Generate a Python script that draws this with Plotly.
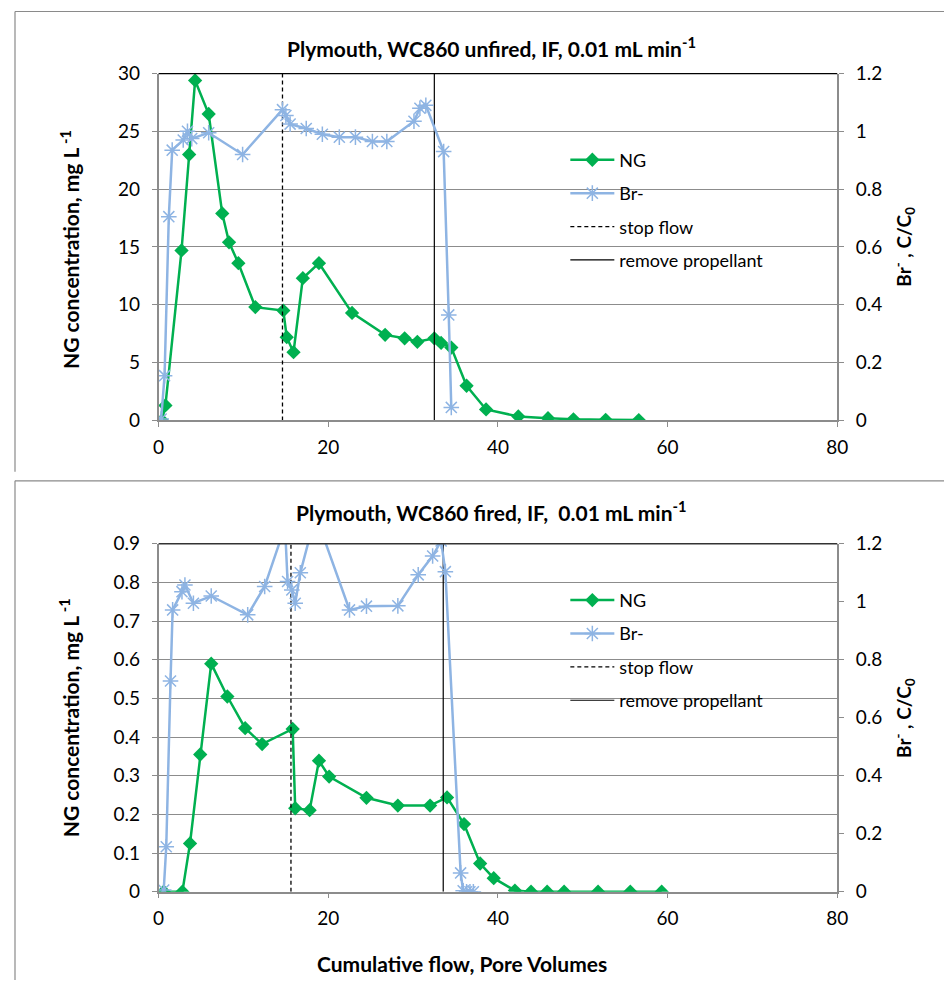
import plotly.graph_objects as go

# 图1: unfired
ng1_x = [0.4, 0.8, 2.7, 3.6, 4.3, 5.9, 7.5, 8.3, 9.4, 11.4, 14.7, 15.1, 15.9, 17.0, 18.9, 22.8,
         26.7, 29.0, 30.5, 32.5, 33.3, 34.5, 36.3, 38.6, 42.4, 45.9, 48.9, 52.7, 56.6]
ng1_y = [0, 1.3, 14.7, 23.0, 29.4, 26.5, 17.9, 15.4, 13.6, 9.8, 9.5, 7.2, 5.9, 12.3, 13.6, 9.3,
         7.4, 7.1, 6.8, 7.1, 6.7, 6.3, 3.0, 0.95, 0.35, 0.2, 0.1, 0.05, 0.03]
br1_x = [0.3, 0.7, 1.2, 1.6, 2.9, 3.4, 3.9, 5.9, 9.9, 14.6, 15.0, 15.5, 17.4, 19.3, 21.3, 23.2,
         25.2, 26.9, 30.1, 30.8, 31.5, 33.6, 34.2, 34.5]
br1_y = [0.005, 0.155, 0.705, 0.935, 0.97, 1.0, 0.975, 0.995, 0.92, 1.075, 1.055, 1.025, 1.01,
         0.99, 0.98, 0.98, 0.965, 0.965, 1.035, 1.08, 1.09, 0.93, 0.365, 0.045]
stop1 = 14.6
remove1 = 32.5

# 图2: fired
ng2_x = [0.6, 2.8, 3.7, 4.9, 6.2, 8.1, 10.2, 12.2, 15.8, 16.1, 17.8, 18.9, 20.1, 24.5, 28.2,
         32.0, 34.0, 36.0, 37.9, 39.5, 42.0, 43.9, 45.8, 47.8, 51.8, 55.6, 59.3]
ng2_y = [0, 0, 0.125, 0.355, 0.59, 0.505, 0.423, 0.382, 0.421, 0.216, 0.211, 0.339, 0.298,
         0.243, 0.223, 0.223, 0.244, 0.175, 0.073, 0.035, 0.003, 0, 0, 0, 0, 0, 0]
br2_x = [0.6, 0.9, 1.4, 1.65, 2.75, 3.1, 4.1, 6.2, 10.5, 12.5, 14.9, 15.2, 15.7, 16.1, 16.7,
         18.5, 22.5, 24.5, 28.2, 30.6, 32.3, 33.3, 33.8, 35.6, 35.9, 36.3, 36.7, 37.1]
br2_y = [0.006, 0.155, 0.727, 0.972, 1.035, 1.058, 0.995, 1.02, 0.955, 1.053, 1.26, 1.07, 1.041,
         0.995, 1.1, 1.30, 0.972, 0.985, 0.986, 1.093, 1.158, 1.21, 1.104, 0.065, 0.003, 0, 0, 0]
stop2 = 15.6
remove2 = 33.55

W, H = 952, 983
FONT = 'Lato'
GREEN = '#00B050'
BLUE = '#8EB4E3'
GRID = '#8c8c8c'

# 截图里的偏移/缩放补偿（像素 -> paper）
SX, OX = 0.986, 11.5
SY, OY = 0.976, 20.5

def px(x):
    return (x - OX) / SX / W

def py(y):
    return 1 - (y - OY) / SY / H

fig = go.Figure()

def add_panel(xa, ya, ya2, ng_x, ng_y, br_x, br_y, stop, remove, ytop, leg):
    fig.add_trace(go.Scatter(x=ng_x, y=ng_y, xaxis=xa, yaxis=ya, name='NG', mode='lines+markers',
                             line=dict(color=GREEN, width=2.5),
                             marker=dict(symbol='diamond', size=11, color=GREEN),
                             legend=leg, legendgroup='a', legendrank=1))
    fig.add_trace(go.Scatter(x=[stop, stop], y=[0, ytop], xaxis=xa, yaxis=ya, name='stop flow',
                             mode='lines', line=dict(color='black', width=1.3, dash='4px,3px'),
                             legend=leg, legendgroup='c', legendrank=3))
    fig.add_trace(go.Scatter(x=[remove, remove], y=[0, ytop], xaxis=xa, yaxis=ya,
                             name='remove propellant', mode='lines',
                             line=dict(color='black', width=1.2),
                             legend=leg, legendgroup='d', legendrank=4))
    fig.add_trace(go.Scatter(x=br_x, y=br_y, xaxis=xa, yaxis=ya2, name='Br-', mode='lines+markers',
                             line=dict(color=BLUE, width=2.5),
                             marker=dict(symbol='asterisk-open', size=13,
                                         line=dict(color=BLUE, width=1.5)),
                             legend=leg, legendgroup='b', legendrank=2))

add_panel('x', 'y', 'y2', ng1_x, ng1_y, br1_x, br1_y, stop1, remove1, 30, 'legend')
add_panel('x2', 'y3', 'y4', ng2_x, ng2_y, br2_x, br2_y, stop2, remove2, 0.9, 'legend2')

xdom = [px(156.7), px(838)]
dom1 = [py(420.7), py(74)]
dom2 = [py(891.7), py(544)]

tickfont = dict(family=FONT, size=19, color='black')

def xaxis(anchor):
    return dict(domain=xdom, anchor=anchor, range=[0, 80], dtick=20, showgrid=False,
                zeroline=False, showline=True, linecolor=GRID, linewidth=1.5,
                ticks='outside', ticklen=5, tickcolor=GRID, tickfont=tickfont,
                ticklabelstandoff=4)

def yleft(dom, anchor, rng, dt):
    return dict(domain=dom, anchor=anchor, range=rng, dtick=dt, showgrid=True, gridcolor=GRID,
                gridwidth=1.2, zeroline=False, showline=True, linecolor=GRID, linewidth=1.5,
                ticks='outside', ticklen=5, tickcolor=GRID, tickfont=tickfont,
                ticklabelstandoff=8)

def yright(over, anchor):
    return dict(overlaying=over, anchor=anchor, side='right', range=[0, 1.2], dtick=0.2,
                showgrid=False, zeroline=False, showline=True, linecolor=GRID, linewidth=1.5,
                ticks='outside', ticklen=5, tickcolor=GRID, tickfont=tickfont,
                ticklabelstandoff=8)

legfont = dict(family=FONT, size=18, color='black')

fig.update_layout(
    width=W, height=H, margin=dict(l=0, r=0, t=0, b=0),
    paper_bgcolor='white', plot_bgcolor='white',
    xaxis=xaxis('y'), yaxis=yleft(dom1, 'x', [0, 30], 5), yaxis2=yright('y', 'x'),
    xaxis2=xaxis('y3'), yaxis3=yleft(dom2, 'x2', [0, 0.9], 0.1), yaxis4=yright('y3', 'x2'),
    legend=dict(x=px(565), y=py(142), xanchor='left', yanchor='top', font=legfont,
                bgcolor='rgba(0,0,0,0)', traceorder='grouped', tracegroupgap=7, itemwidth=44),
    legend2=dict(x=px(565), y=py(582), xanchor='left', yanchor='top', font=legfont,
                 bgcolor='rgba(0,0,0,0)', traceorder='grouped', tracegroupgap=7, itemwidth=44),
    font=dict(family=FONT, color='black'),
)

bold = dict(family=FONT, size=21, color='black')
annos = [
    dict(text='<b>Plymouth, WC860 unfired, IF, 0.01 mL min<sup>-1</sup></b>', x=px(491), y=py(47)),
    dict(text='<b>Plymouth, WC860 fired, IF,  0.01 mL min<sup>-1</sup></b>', x=px(491), y=py(511)),
    dict(text='<b>NG concentration, mg L<sup> -1</sup></b>', x=px(67), y=py(250), textangle=-90),
    dict(text='<b>NG concentration, mg L<sup> -1</sup></b>', x=px(67), y=py(718), textangle=-90),
    dict(text='<b>Br<sup>-</sup> , C/C<sub>0</sub></b>', x=px(905), y=py(247), textangle=-90),
    dict(text='<b>Br<sup>-</sup> , C/C<sub>0</sub></b>', x=px(905), y=py(718), textangle=-90),
    dict(text='<b>Cumulative flow, Pore Volumes</b>', x=px(461), y=py(963)),
]
for a in annos:
    f = dict(bold)
    if 'Br' in a['text']:
        f['size'] = 19
    fig.add_annotation(xref='paper', yref='paper', showarrow=False, font=f,
                       xanchor='center', yanchor='middle', **a)

# 图框和绘图区上边线
line_gray = dict(color='#8a8a8a', width=1.2)
bx = px(12.5)
shapes = [
    dict(type='line', x0=bx, x1=1, y0=py(12), y1=py(12), line=line_gray),
    dict(type='line', x0=bx, x1=bx, y0=py(12), y1=py(472), line=line_gray),
    dict(type='line', x0=bx, x1=1, y0=py(481), y1=py(481), line=line_gray),
    dict(type='line', x0=bx, x1=bx, y0=py(481), y1=0, line=line_gray),
    dict(type='line', x0=xdom[0], x1=xdom[1], y0=dom1[1], y1=dom1[1], line=dict(color='black', width=1.2)),
    dict(type='line', x0=xdom[0], x1=xdom[1], y0=dom2[1], y1=dom2[1], line=dict(color='#333', width=1.5)),
]
for s in shapes:
    fig.add_shape(xref='paper', yref='paper', **s)

fig.write_html('out.html')
